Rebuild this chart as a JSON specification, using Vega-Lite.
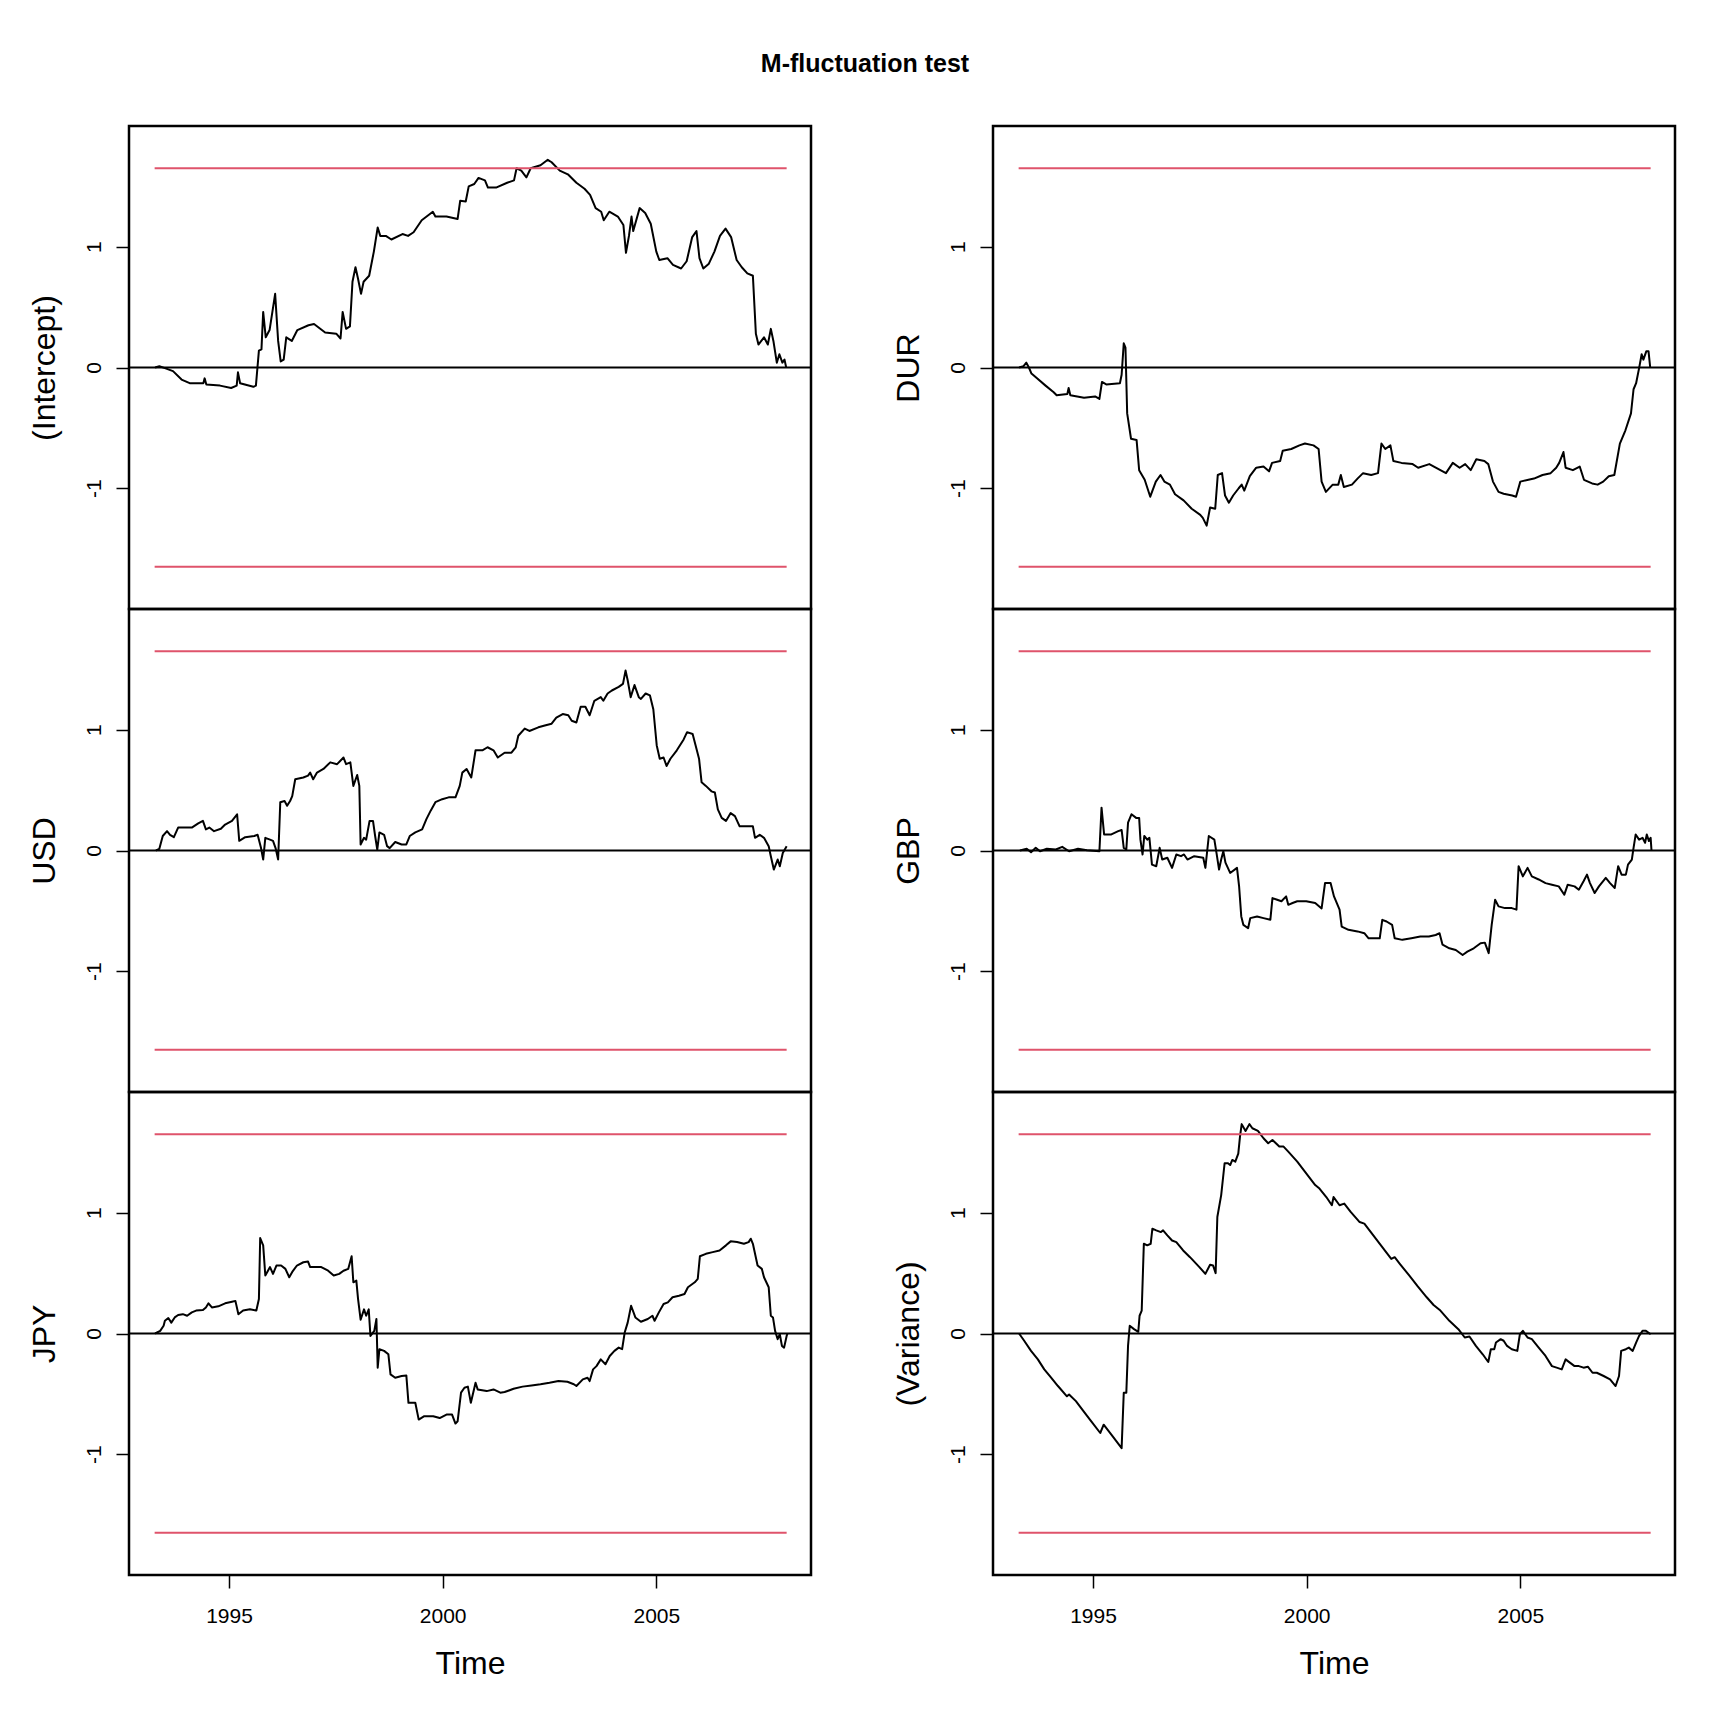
{
  "$schema": "https://vega.github.io/schema/vega-lite/v6.json",
  "description": "M-fluctuation test: empirical fluctuation processes for six parameters with 5% boundaries.",
  "padding": {"left": 26, "top": 51, "right": 5, "bottom": 5},
  "background": "white",
  "title": {
    "text": "M-fluctuation test",
    "font": "Liberation Sans",
    "fontSize": 25,
    "fontWeight": "bold",
    "color": "black",
    "anchor": "middle",
    "dx": 13,
    "offset": 48
  },
  "config": {
    "font": "Liberation Sans",
    "view": {"stroke": "black", "strokeWidth": 2.5},
    "axis": {
      "domain": false,
      "grid": false,
      "ticks": true,
      "tickColor": "black",
      "tickWidth": 1.5,
      "tickSize": 13,
      "labelFont": "Liberation Sans",
      "labelFontSize": 21,
      "labelColor": "black",
      "titleFont": "Liberation Sans",
      "titleFontSize": 32,
      "titleFontWeight": "normal",
      "titleColor": "black"
    },
    "axisY": {
      "labelAngle": 270,
      "labelAlign": "center",
      "labelBaseline": "alphabetic",
      "labelPadding": 16,
      "titlePadding": 22
    },
    "axisX": {"labelPadding": 17, "titlePadding": 22},
    "line": {"strokeJoin": "round", "strokeCap": "butt"}
  },
  "datasets": {
    "rules": [
      {"t": 1993.26, "t2": 2008.05, "v": 1.65, "k": "boundary"},
      {"t": 1993.26, "t2": 2008.05, "v": -1.65, "k": "boundary"},
      {"t": 1992.66, "t2": 2008.62, "v": 0, "k": "zero"}
    ],
    "intercept": [
      {"t":1993.27,"v":0},{"t":1993.37,"v":0.01},{"t":1993.50,"v":-0.005},{"t":1993.69,"v":-0.03},{"t":1993.89,"v":-0.10},
      {"t":1994.08,"v":-0.13},{"t":1994.40,"v":-0.13},{"t":1994.43,"v":-0.09},{"t":1994.47,"v":-0.14},{"t":1994.79,"v":-0.15},
      {"t":1995.05,"v":-0.17},{"t":1995.18,"v":-0.15},{"t":1995.21,"v":-0.04},{"t":1995.26,"v":-0.13},{"t":1995.57,"v":-0.16},
      {"t":1995.63,"v":-0.15},{"t":1995.70,"v":0.14},{"t":1995.76,"v":0.15},{"t":1995.80,"v":0.46},{"t":1995.86,"v":0.25},
      {"t":1995.95,"v":0.31},{"t":1996.08,"v":0.61},{"t":1996.15,"v":0.22},{"t":1996.21,"v":0.05},{"t":1996.28,"v":0.065},
      {"t":1996.34,"v":0.25},{"t":1996.47,"v":0.22},{"t":1996.60,"v":0.31},{"t":1996.86,"v":0.35},{"t":1996.99,"v":0.36},
      {"t":1997.25,"v":0.29},{"t":1997.51,"v":0.28},{"t":1997.61,"v":0.24},{"t":1997.66,"v":0.46},{"t":1997.74,"v":0.32},
      {"t":1997.83,"v":0.34},{"t":1997.89,"v":0.71},{"t":1997.96,"v":0.83},{"t":1998.02,"v":0.735},{"t":1998.09,"v":0.61},
      {"t":1998.15,"v":0.71},{"t":1998.28,"v":0.76},{"t":1998.39,"v":0.96},{"t":1998.48,"v":1.16},{"t":1998.54,"v":1.09},
      {"t":1998.67,"v":1.09},{"t":1998.80,"v":1.06},{"t":1999.06,"v":1.105},{"t":1999.19,"v":1.09},{"t":1999.32,"v":1.12},
      {"t":1999.51,"v":1.22},{"t":1999.77,"v":1.29},{"t":1999.83,"v":1.25},{"t":2000.09,"v":1.25},{"t":2000.35,"v":1.23},
      {"t":2000.41,"v":1.38},{"t":2000.54,"v":1.375},{"t":2000.61,"v":1.5},{"t":2000.74,"v":1.52},{"t":2000.84,"v":1.57},
      {"t":2000.99,"v":1.55},{"t":2001.06,"v":1.49},{"t":2001.25,"v":1.49},{"t":2001.51,"v":1.53},{"t":2001.67,"v":1.55},
      {"t":2001.73,"v":1.65},{"t":2001.84,"v":1.63},{"t":2001.96,"v":1.575},{"t":2002.06,"v":1.65},{"t":2002.29,"v":1.675},
      {"t":2002.46,"v":1.72},{"t":2002.55,"v":1.70},{"t":2002.74,"v":1.63},{"t":2002.93,"v":1.60},{"t":2003.13,"v":1.53},
      {"t":2003.32,"v":1.48},{"t":2003.45,"v":1.43},{"t":2003.58,"v":1.32},{"t":2003.71,"v":1.29},{"t":2003.77,"v":1.22},
      {"t":2003.90,"v":1.29},{"t":2004.10,"v":1.25},{"t":2004.23,"v":1.18},{"t":2004.29,"v":0.95},{"t":2004.36,"v":1.09},
      {"t":2004.42,"v":1.25},{"t":2004.46,"v":1.13},{"t":2004.61,"v":1.32},{"t":2004.74,"v":1.28},{"t":2004.87,"v":1.19},
      {"t":2005.00,"v":0.96},{"t":2005.07,"v":0.89},{"t":2005.26,"v":0.905},{"t":2005.39,"v":0.85},{"t":2005.58,"v":0.82},
      {"t":2005.71,"v":0.88},{"t":2005.84,"v":1.08},{"t":2005.94,"v":1.13},{"t":2006.01,"v":0.905},{"t":2006.10,"v":0.82},
      {"t":2006.23,"v":0.86},{"t":2006.36,"v":0.96},{"t":2006.49,"v":1.09},{"t":2006.62,"v":1.15},{"t":2006.75,"v":1.08},
      {"t":2006.88,"v":0.89},{"t":2007.00,"v":0.83},{"t":2007.13,"v":0.78},{"t":2007.26,"v":0.76},{"t":2007.33,"v":0.28},
      {"t":2007.39,"v":0.19},{"t":2007.52,"v":0.25},{"t":2007.61,"v":0.19},{"t":2007.68,"v":0.32},{"t":2007.74,"v":0.22},
      {"t":2007.82,"v":0.04},{"t":2007.88,"v":0.11},{"t":2007.95,"v":0.04},{"t":2008.00,"v":0.065},{"t":2008.04,"v":0}
    ],
    "dur": [
      {"t":1993.27,"v":0},{"t":1993.37,"v":0.01},{"t":1993.44,"v":0.04},{"t":1993.50,"v":0},{"t":1993.56,"v":-0.05},
      {"t":1993.69,"v":-0.09},{"t":1993.89,"v":-0.15},{"t":1994.08,"v":-0.205},{"t":1994.15,"v":-0.23},{"t":1994.40,"v":-0.22},
      {"t":1994.43,"v":-0.17},{"t":1994.47,"v":-0.23},{"t":1994.79,"v":-0.25},{"t":1995.05,"v":-0.24},{"t":1995.15,"v":-0.26},
      {"t":1995.21,"v":-0.12},{"t":1995.31,"v":-0.14},{"t":1995.63,"v":-0.13},{"t":1995.67,"v":-0.06},{"t":1995.72,"v":0.2},
      {"t":1995.76,"v":0.165},{"t":1995.80,"v":-0.38},{"t":1995.89,"v":-0.59},{"t":1996.02,"v":-0.60},{"t":1996.08,"v":-0.85},
      {"t":1996.21,"v":-0.93},{"t":1996.34,"v":-1.07},{"t":1996.47,"v":-0.945},{"t":1996.58,"v":-0.89},{"t":1996.67,"v":-0.945},
      {"t":1996.80,"v":-0.97},{"t":1996.92,"v":-1.05},{"t":1997.12,"v":-1.10},{"t":1997.31,"v":-1.17},{"t":1997.51,"v":-1.22},
      {"t":1997.57,"v":-1.245},{"t":1997.66,"v":-1.31},{"t":1997.74,"v":-1.16},{"t":1997.86,"v":-1.17},{"t":1997.92,"v":-0.89},
      {"t":1998.02,"v":-0.875},{"t":1998.09,"v":-1.06},{"t":1998.18,"v":-1.12},{"t":1998.28,"v":-1.06},{"t":1998.41,"v":-1.00},
      {"t":1998.48,"v":-0.97},{"t":1998.54,"v":-1.02},{"t":1998.67,"v":-0.90},{"t":1998.82,"v":-0.83},{"t":1998.99,"v":-0.82},
      {"t":1999.12,"v":-0.86},{"t":1999.19,"v":-0.79},{"t":1999.38,"v":-0.775},{"t":1999.44,"v":-0.69},{"t":1999.64,"v":-0.675},
      {"t":1999.83,"v":-0.645},{"t":1999.96,"v":-0.63},{"t":2000.16,"v":-0.645},{"t":2000.28,"v":-0.675},{"t":2000.35,"v":-0.945},
      {"t":2000.45,"v":-1.03},{"t":2000.61,"v":-0.97},{"t":2000.74,"v":-0.97},{"t":2000.80,"v":-0.89},{"t":2000.87,"v":-0.99},
      {"t":2001.06,"v":-0.97},{"t":2001.19,"v":-0.92},{"t":2001.32,"v":-0.875},{"t":2001.51,"v":-0.89},{"t":2001.67,"v":-0.875},
      {"t":2001.75,"v":-0.63},{"t":2001.84,"v":-0.675},{"t":2001.96,"v":-0.645},{"t":2002.03,"v":-0.775},{"t":2002.22,"v":-0.79},
      {"t":2002.48,"v":-0.80},{"t":2002.61,"v":-0.83},{"t":2002.87,"v":-0.80},{"t":2003.13,"v":-0.85},{"t":2003.26,"v":-0.875},
      {"t":2003.42,"v":-0.79},{"t":2003.58,"v":-0.83},{"t":2003.71,"v":-0.80},{"t":2003.84,"v":-0.85},{"t":2003.97,"v":-0.76},
      {"t":2004.16,"v":-0.775},{"t":2004.25,"v":-0.80},{"t":2004.36,"v":-0.945},{"t":2004.49,"v":-1.03},{"t":2004.61,"v":-1.045},
      {"t":2004.81,"v":-1.06},{"t":2004.90,"v":-1.07},{"t":2005.00,"v":-0.945},{"t":2005.19,"v":-0.93},{"t":2005.32,"v":-0.92},
      {"t":2005.52,"v":-0.89},{"t":2005.71,"v":-0.875},{"t":2005.84,"v":-0.83},{"t":2005.91,"v":-0.79},{"t":2006.01,"v":-0.70},
      {"t":2006.06,"v":-0.83},{"t":2006.23,"v":-0.85},{"t":2006.39,"v":-0.82},{"t":2006.49,"v":-0.93},{"t":2006.68,"v":-0.96},
      {"t":2006.81,"v":-0.97},{"t":2006.94,"v":-0.945},{"t":2007.07,"v":-0.90},{"t":2007.20,"v":-0.89},{"t":2007.33,"v":-0.63},
      {"t":2007.46,"v":-0.52},{"t":2007.59,"v":-0.38},{"t":2007.65,"v":-0.18},{"t":2007.71,"v":-0.13},{"t":2007.78,"v":-0.005},
      {"t":2007.84,"v":0.11},{"t":2007.88,"v":0.065},{"t":2007.95,"v":0.135},{"t":2008.00,"v":0.135},{"t":2008.04,"v":0}
    ],
    "usd": [
      {"t":1993.29,"v":0},{"t":1993.37,"v":0.014},{"t":1993.45,"v":0.12},{"t":1993.55,"v":0.16},{"t":1993.62,"v":0.13},
      {"t":1993.71,"v":0.11},{"t":1993.81,"v":0.19},{"t":1993.97,"v":0.19},{"t":1994.13,"v":0.19},{"t":1994.28,"v":0.225},
      {"t":1994.39,"v":0.245},{"t":1994.46,"v":0.175},{"t":1994.54,"v":0.19},{"t":1994.65,"v":0.16},{"t":1994.81,"v":0.18},
      {"t":1994.91,"v":0.215},{"t":1995.07,"v":0.245},{"t":1995.19,"v":0.30},{"t":1995.24,"v":0.08},{"t":1995.38,"v":0.11},
      {"t":1995.59,"v":0.12},{"t":1995.67,"v":0.13},{"t":1995.75,"v":0.02},{"t":1995.80,"v":-0.075},{"t":1995.85,"v":0.105},
      {"t":1995.96,"v":0.09},{"t":1996.03,"v":0.08},{"t":1996.09,"v":0.02},{"t":1996.15,"v":-0.075},{"t":1996.20,"v":0.40},
      {"t":1996.30,"v":0.41},{"t":1996.36,"v":0.37},{"t":1996.43,"v":0.41},{"t":1996.48,"v":0.45},{"t":1996.55,"v":0.59},
      {"t":1996.74,"v":0.605},{"t":1996.85,"v":0.62},{"t":1996.90,"v":0.645},{"t":1996.97,"v":0.59},{"t":1997.06,"v":0.645},
      {"t":1997.21,"v":0.675},{"t":1997.37,"v":0.73},{"t":1997.53,"v":0.715},{"t":1997.68,"v":0.77},{"t":1997.74,"v":0.715},
      {"t":1997.84,"v":0.73},{"t":1997.91,"v":0.535},{"t":1998.00,"v":0.625},{"t":1998.05,"v":0.535},{"t":1998.08,"v":0.05},
      {"t":1998.16,"v":0.105},{"t":1998.21,"v":0.09},{"t":1998.29,"v":0.245},{"t":1998.37,"v":0.245},{"t":1998.42,"v":0.12},
      {"t":1998.47,"v":0.008},{"t":1998.52,"v":0.15},{"t":1998.63,"v":0.13},{"t":1998.70,"v":0.036},{"t":1998.76,"v":0.02},
      {"t":1998.89,"v":0.07},{"t":1999.04,"v":0.05},{"t":1999.15,"v":0.05},{"t":1999.23,"v":0.12},{"t":1999.36,"v":0.15},
      {"t":1999.52,"v":0.175},{"t":1999.62,"v":0.26},{"t":1999.72,"v":0.33},{"t":1999.83,"v":0.40},{"t":1999.99,"v":0.425},
      {"t":2000.14,"v":0.44},{"t":2000.30,"v":0.44},{"t":2000.40,"v":0.535},{"t":2000.46,"v":0.645},{"t":2000.56,"v":0.675},
      {"t":2000.67,"v":0.605},{"t":2000.77,"v":0.83},{"t":2000.93,"v":0.83},{"t":2001.05,"v":0.855},{"t":2001.19,"v":0.83},
      {"t":2001.29,"v":0.77},{"t":2001.45,"v":0.81},{"t":2001.61,"v":0.81},{"t":2001.71,"v":0.855},{"t":2001.77,"v":0.95},
      {"t":2001.92,"v":1.01},{"t":2002.03,"v":0.99},{"t":2002.24,"v":1.02},{"t":2002.39,"v":1.035},{"t":2002.55,"v":1.05},
      {"t":2002.66,"v":1.10},{"t":2002.81,"v":1.13},{"t":2002.94,"v":1.12},{"t":2003.02,"v":1.075},{"t":2003.13,"v":1.06},
      {"t":2003.23,"v":1.19},{"t":2003.34,"v":1.19},{"t":2003.44,"v":1.12},{"t":2003.55,"v":1.24},{"t":2003.70,"v":1.27},
      {"t":2003.76,"v":1.24},{"t":2003.86,"v":1.30},{"t":2003.96,"v":1.325},{"t":2004.12,"v":1.355},{"t":2004.22,"v":1.38},
      {"t":2004.28,"v":1.49},{"t":2004.33,"v":1.41},{"t":2004.40,"v":1.27},{"t":2004.49,"v":1.37},{"t":2004.59,"v":1.27},
      {"t":2004.64,"v":1.255},{"t":2004.75,"v":1.30},{"t":2004.85,"v":1.285},{"t":2004.93,"v":1.17},{"t":2005.01,"v":0.87},
      {"t":2005.08,"v":0.76},{"t":2005.17,"v":0.77},{"t":2005.24,"v":0.70},{"t":2005.33,"v":0.76},{"t":2005.48,"v":0.83},
      {"t":2005.64,"v":0.92},{"t":2005.72,"v":0.98},{"t":2005.85,"v":0.965},{"t":2005.92,"v":0.87},{"t":2006.00,"v":0.76},
      {"t":2006.06,"v":0.565},{"t":2006.16,"v":0.535},{"t":2006.29,"v":0.49},{"t":2006.37,"v":0.48},{"t":2006.44,"v":0.34},
      {"t":2006.53,"v":0.27},{"t":2006.63,"v":0.245},{"t":2006.74,"v":0.31},{"t":2006.84,"v":0.285},{"t":2006.95,"v":0.20},
      {"t":2007.10,"v":0.20},{"t":2007.26,"v":0.20},{"t":2007.31,"v":0.105},{"t":2007.42,"v":0.13},{"t":2007.52,"v":0.105},
      {"t":2007.63,"v":0.036},{"t":2007.68,"v":-0.047},{"t":2007.75,"v":-0.158},{"t":2007.84,"v":-0.075},{"t":2007.89,"v":-0.13},
      {"t":2007.96,"v":-0.02},{"t":2008.05,"v":0.036}
    ],
    "gbp": [
      {"t":1993.29,"v":0},{"t":1993.45,"v":0.014},{"t":1993.55,"v":-0.014},{"t":1993.66,"v":0.022},{"t":1993.76,"v":-0.006},
      {"t":1993.92,"v":0.014},{"t":1994.13,"v":0.008},{"t":1994.28,"v":0.03},{"t":1994.44,"v":-0.006},{"t":1994.65,"v":0.014},
      {"t":1994.86,"v":0.003},{"t":1995.15,"v":-0.006},{"t":1995.20,"v":0.355},{"t":1995.26,"v":0.133},{"t":1995.43,"v":0.133},
      {"t":1995.59,"v":0.16},{"t":1995.67,"v":0.17},{"t":1995.72,"v":0.022},{"t":1995.78,"v":0.008},{"t":1995.82,"v":0.23},
      {"t":1995.90,"v":0.30},{"t":1996.01,"v":0.27},{"t":1996.08,"v":0.27},{"t":1996.11,"v":0.09},{"t":1996.16,"v":-0.033},
      {"t":1996.20,"v":0.12},{"t":1996.27,"v":0.09},{"t":1996.32,"v":0.105},{"t":1996.38,"v":-0.117},{"t":1996.48,"v":-0.13},
      {"t":1996.56,"v":0.022},{"t":1996.62,"v":-0.075},{"t":1996.74,"v":-0.06},{"t":1996.85,"v":-0.144},{"t":1996.95,"v":-0.033},
      {"t":1997.06,"v":-0.047},{"t":1997.13,"v":-0.033},{"t":1997.21,"v":-0.075},{"t":1997.37,"v":-0.047},{"t":1997.58,"v":-0.06},
      {"t":1997.63,"v":-0.144},{"t":1997.71,"v":0.12},{"t":1997.84,"v":0.09},{"t":1997.89,"v":-0.02},{"t":1997.95,"v":-0.158},
      {"t":1998.00,"v":-0.075},{"t":1998.05,"v":-0.006},{"t":1998.10,"v":-0.10},{"t":1998.21,"v":-0.186},{"t":1998.37,"v":-0.144},
      {"t":1998.42,"v":-0.30},{"t":1998.47,"v":-0.546},{"t":1998.52,"v":-0.616},{"t":1998.63,"v":-0.644},{"t":1998.68,"v":-0.56},
      {"t":1998.84,"v":-0.546},{"t":1998.99,"v":-0.56},{"t":1999.15,"v":-0.574},{"t":1999.20,"v":-0.394},{"t":1999.31,"v":-0.408},
      {"t":1999.41,"v":-0.42},{"t":1999.52,"v":-0.38},{"t":1999.57,"v":-0.45},{"t":1999.67,"v":-0.435},{"t":1999.78,"v":-0.42},
      {"t":1999.99,"v":-0.42},{"t":2000.20,"v":-0.435},{"t":2000.35,"v":-0.48},{"t":2000.43,"v":-0.27},{"t":2000.56,"v":-0.27},
      {"t":2000.64,"v":-0.38},{"t":2000.77,"v":-0.49},{"t":2000.82,"v":-0.63},{"t":2000.98,"v":-0.657},{"t":2001.19,"v":-0.67},
      {"t":2001.35,"v":-0.685},{"t":2001.45,"v":-0.727},{"t":2001.61,"v":-0.727},{"t":2001.71,"v":-0.727},{"t":2001.77,"v":-0.574},
      {"t":2001.87,"v":-0.588},{"t":2002.00,"v":-0.616},{"t":2002.06,"v":-0.727},{"t":2002.24,"v":-0.74},{"t":2002.45,"v":-0.727},
      {"t":2002.66,"v":-0.713},{"t":2002.86,"v":-0.713},{"t":2003.02,"v":-0.70},{"t":2003.11,"v":-0.685},{"t":2003.18,"v":-0.78},
      {"t":2003.34,"v":-0.81},{"t":2003.49,"v":-0.824},{"t":2003.65,"v":-0.865},{"t":2003.76,"v":-0.838},{"t":2003.91,"v":-0.81},
      {"t":2004.07,"v":-0.768},{"t":2004.17,"v":-0.763},{"t":2004.26,"v":-0.85},{"t":2004.33,"v":-0.616},{"t":2004.41,"v":-0.408},
      {"t":2004.49,"v":-0.463},{"t":2004.64,"v":-0.477},{"t":2004.80,"v":-0.477},{"t":2004.91,"v":-0.49},{"t":2004.96,"v":-0.13},
      {"t":2005.06,"v":-0.214},{"t":2005.17,"v":-0.144},{"t":2005.27,"v":-0.214},{"t":2005.43,"v":-0.24},{"t":2005.59,"v":-0.27},
      {"t":2005.74,"v":-0.283},{"t":2005.90,"v":-0.297},{"t":2006.03,"v":-0.366},{"t":2006.11,"v":-0.283},{"t":2006.27,"v":-0.297},
      {"t":2006.37,"v":-0.325},{"t":2006.48,"v":-0.255},{"t":2006.56,"v":-0.20},{"t":2006.63,"v":-0.27},{"t":2006.74,"v":-0.352},
      {"t":2006.84,"v":-0.297},{"t":2007.00,"v":-0.227},{"t":2007.10,"v":-0.27},{"t":2007.21,"v":-0.31},{"t":2007.29,"v":-0.13},
      {"t":2007.37,"v":-0.20},{"t":2007.47,"v":-0.20},{"t":2007.52,"v":-0.117},{"t":2007.61,"v":-0.075},{"t":2007.65,"v":0.022},
      {"t":2007.70,"v":0.133},{"t":2007.78,"v":0.09},{"t":2007.86,"v":0.105},{"t":2007.92,"v":0.064},{"t":2007.96,"v":0.133},
      {"t":2008.01,"v":0.078},{"t":2008.05,"v":0.105},{"t":2008.07,"v":0}
    ],
    "jpy": [
      {"t":1993.27,"v":0},{"t":1993.39,"v":0.022},{"t":1993.47,"v":0.064},{"t":1993.50,"v":0.105},{"t":1993.58,"v":0.128},
      {"t":1993.65,"v":0.09},{"t":1993.73,"v":0.133},{"t":1993.81,"v":0.153},{"t":1993.92,"v":0.16},{"t":1994.02,"v":0.147},
      {"t":1994.13,"v":0.175},{"t":1994.23,"v":0.19},{"t":1994.39,"v":0.194},{"t":1994.46,"v":0.216},{"t":1994.52,"v":0.25},
      {"t":1994.60,"v":0.216},{"t":1994.75,"v":0.225},{"t":1994.91,"v":0.25},{"t":1995.07,"v":0.263},{"t":1995.15,"v":0.27},
      {"t":1995.22,"v":0.16},{"t":1995.33,"v":0.19},{"t":1995.49,"v":0.20},{"t":1995.64,"v":0.19},{"t":1995.70,"v":0.286},
      {"t":1995.73,"v":0.79},{"t":1995.80,"v":0.73},{"t":1995.85,"v":0.48},{"t":1995.96,"v":0.55},{"t":1996.03,"v":0.494},
      {"t":1996.11,"v":0.563},{"t":1996.22,"v":0.563},{"t":1996.32,"v":0.535},{"t":1996.41,"v":0.466},{"t":1996.48,"v":0.51},
      {"t":1996.59,"v":0.563},{"t":1996.74,"v":0.59},{"t":1996.85,"v":0.596},{"t":1996.90,"v":0.55},{"t":1997.06,"v":0.55},
      {"t":1997.16,"v":0.55},{"t":1997.32,"v":0.52},{"t":1997.45,"v":0.48},{"t":1997.58,"v":0.494},{"t":1997.68,"v":0.52},
      {"t":1997.79,"v":0.535},{"t":1997.87,"v":0.64},{"t":1997.91,"v":0.424},{"t":1997.98,"v":0.438},{"t":1998.02,"v":0.286},
      {"t":1998.08,"v":0.114},{"t":1998.16,"v":0.20},{"t":1998.21,"v":0.147},{"t":1998.27,"v":0.20},{"t":1998.31,"v":-0.02},
      {"t":1998.40,"v":0.022},{"t":1998.45,"v":0.12},{"t":1998.48,"v":-0.283},{"t":1998.52,"v":-0.13},{"t":1998.63,"v":-0.144},
      {"t":1998.73,"v":-0.172},{"t":1998.78,"v":-0.338},{"t":1998.89,"v":-0.366},{"t":1999.04,"v":-0.352},{"t":1999.15,"v":-0.347},
      {"t":1999.20,"v":-0.574},{"t":1999.36,"v":-0.574},{"t":1999.44,"v":-0.713},{"t":1999.57,"v":-0.685},{"t":1999.78,"v":-0.685},
      {"t":1999.93,"v":-0.70},{"t":2000.09,"v":-0.671},{"t":2000.22,"v":-0.671},{"t":2000.30,"v":-0.746},{"t":2000.35,"v":-0.727},
      {"t":2000.43,"v":-0.49},{"t":2000.51,"v":-0.449},{"t":2000.59,"v":-0.44},{"t":2000.66,"v":-0.574},{"t":2000.77,"v":-0.408},
      {"t":2000.82,"v":-0.463},{"t":2001.03,"v":-0.477},{"t":2001.19,"v":-0.463},{"t":2001.35,"v":-0.49},{"t":2001.45,"v":-0.485},
      {"t":2001.66,"v":-0.458},{"t":2001.87,"v":-0.44},{"t":2002.08,"v":-0.43},{"t":2002.29,"v":-0.42},{"t":2002.50,"v":-0.408},
      {"t":2002.71,"v":-0.394},{"t":2002.92,"v":-0.40},{"t":2003.07,"v":-0.42},{"t":2003.13,"v":-0.435},{"t":2003.28,"v":-0.38},
      {"t":2003.39,"v":-0.366},{"t":2003.44,"v":-0.394},{"t":2003.52,"v":-0.297},{"t":2003.60,"v":-0.27},{"t":2003.70,"v":-0.214},
      {"t":2003.81,"v":-0.255},{"t":2003.91,"v":-0.186},{"t":2004.02,"v":-0.144},{"t":2004.12,"v":-0.117},{"t":2004.20,"v":-0.13},
      {"t":2004.26,"v":0.008},{"t":2004.33,"v":0.09},{"t":2004.41,"v":0.23},{"t":2004.51,"v":0.133},{"t":2004.64,"v":0.097},
      {"t":2004.80,"v":0.12},{"t":2004.91,"v":0.147},{"t":2004.96,"v":0.105},{"t":2005.06,"v":0.175},{"t":2005.17,"v":0.244},
      {"t":2005.27,"v":0.258},{"t":2005.38,"v":0.30},{"t":2005.53,"v":0.313},{"t":2005.66,"v":0.327},{"t":2005.74,"v":0.383},
      {"t":2005.90,"v":0.424},{"t":2005.97,"v":0.452},{"t":2006.02,"v":0.64},{"t":2006.16,"v":0.66},{"t":2006.32,"v":0.674},
      {"t":2006.48,"v":0.688},{"t":2006.63,"v":0.73},{"t":2006.74,"v":0.763},{"t":2006.89,"v":0.757},{"t":2007.05,"v":0.743},
      {"t":2007.16,"v":0.757},{"t":2007.21,"v":0.785},{"t":2007.26,"v":0.743},{"t":2007.37,"v":0.563},{"t":2007.47,"v":0.535},
      {"t":2007.52,"v":0.466},{"t":2007.63,"v":0.383},{"t":2007.68,"v":0.147},{"t":2007.73,"v":0.133},{"t":2007.78,"v":0.022},
      {"t":2007.84,"v":-0.047},{"t":2007.89,"v":-0.006},{"t":2007.94,"v":-0.103},{"t":2007.99,"v":-0.117},{"t":2008.05,"v":-0.02},
      {"t":2008.07,"v":0}
    ],
    "variance": [
      {"t":1993.27,"v":0},{"t":1993.39,"v":-0.06},{"t":1993.55,"v":-0.144},{"t":1993.71,"v":-0.214},{"t":1993.86,"v":-0.297},
      {"t":1994.02,"v":-0.366},{"t":1994.18,"v":-0.435},{"t":1994.39,"v":-0.52},{"t":1994.44,"v":-0.505},{"t":1994.60,"v":-0.56},
      {"t":1994.75,"v":-0.63},{"t":1994.96,"v":-0.727},{"t":1995.17,"v":-0.824},{"t":1995.25,"v":-0.755},{"t":1995.43,"v":-0.838},
      {"t":1995.67,"v":-0.949},{"t":1995.72,"v":-0.49},{"t":1995.78,"v":-0.49},{"t":1995.82,"v":-0.103},{"t":1995.86,"v":0.064},
      {"t":1995.96,"v":0.036},{"t":1996.06,"v":0.014},{"t":1996.09,"v":0.147},{"t":1996.14,"v":0.19},{"t":1996.19,"v":0.743},
      {"t":1996.27,"v":0.73},{"t":1996.35,"v":0.743},{"t":1996.39,"v":0.868},{"t":1996.48,"v":0.854},{"t":1996.59,"v":0.84},
      {"t":1996.64,"v":0.854},{"t":1996.74,"v":0.813},{"t":1996.85,"v":0.77},{"t":1996.95,"v":0.757},{"t":1997.11,"v":0.688},
      {"t":1997.27,"v":0.632},{"t":1997.49,"v":0.55},{"t":1997.63,"v":0.494},{"t":1997.74,"v":0.57},{"t":1997.81,"v":0.563},
      {"t":1997.87,"v":0.50},{"t":1997.91,"v":0.965},{"t":1998.00,"v":1.146},{"t":1998.08,"v":1.41},{"t":1998.16,"v":1.41},
      {"t":1998.21,"v":1.395},{"t":1998.26,"v":1.437},{"t":1998.33,"v":1.423},{"t":1998.40,"v":1.49},{"t":1998.44,"v":1.63},
      {"t":1998.48,"v":1.734},{"t":1998.57,"v":1.678},{"t":1998.66,"v":1.734},{"t":1998.73,"v":1.70},{"t":1998.86,"v":1.678},
      {"t":1998.99,"v":1.617},{"t":1999.10,"v":1.576},{"t":1999.20,"v":1.603},{"t":1999.36,"v":1.548},{"t":1999.46,"v":1.548},
      {"t":1999.57,"v":1.506},{"t":1999.78,"v":1.423},{"t":1999.99,"v":1.326},{"t":2000.20,"v":1.229},{"t":2000.30,"v":1.20},
      {"t":2000.46,"v":1.13},{"t":2000.59,"v":1.062},{"t":2000.63,"v":1.13},{"t":2000.77,"v":1.062},{"t":2000.88,"v":1.076},
      {"t":2001.03,"v":1.007},{"t":2001.24,"v":0.923},{"t":2001.35,"v":0.91},{"t":2001.56,"v":0.813},{"t":2001.77,"v":0.716},
      {"t":2001.98,"v":0.618},{"t":2002.06,"v":0.632},{"t":2002.18,"v":0.577},{"t":2002.39,"v":0.485},{"t":2002.60,"v":0.39},
      {"t":2002.81,"v":0.30},{"t":2002.97,"v":0.236},{"t":2003.13,"v":0.19},{"t":2003.34,"v":0.105},{"t":2003.55,"v":0.036},
      {"t":2003.70,"v":-0.033},{"t":2003.81,"v":-0.025},{"t":2003.96,"v":-0.103},{"t":2004.12,"v":-0.172},{"t":2004.25,"v":-0.236},
      {"t":2004.31,"v":-0.13},{"t":2004.39,"v":-0.13},{"t":2004.43,"v":-0.075},{"t":2004.54,"v":-0.047},{"t":2004.61,"v":-0.06},
      {"t":2004.69,"v":-0.103},{"t":2004.80,"v":-0.13},{"t":2004.93,"v":-0.144},{"t":2004.99,"v":-0.006},{"t":2005.06,"v":0.022},
      {"t":2005.17,"v":-0.033},{"t":2005.27,"v":-0.047},{"t":2005.43,"v":-0.117},{"t":2005.59,"v":-0.186},{"t":2005.74,"v":-0.27},
      {"t":2005.85,"v":-0.283},{"t":2005.97,"v":-0.297},{"t":2006.06,"v":-0.214},{"t":2006.16,"v":-0.241},{"t":2006.27,"v":-0.27},
      {"t":2006.37,"v":-0.27},{"t":2006.48,"v":-0.283},{"t":2006.58,"v":-0.275},{"t":2006.69,"v":-0.325},{"t":2006.79,"v":-0.325},
      {"t":2006.95,"v":-0.352},{"t":2007.10,"v":-0.38},{"t":2007.23,"v":-0.435},{"t":2007.31,"v":-0.352},{"t":2007.36,"v":-0.144},
      {"t":2007.47,"v":-0.13},{"t":2007.54,"v":-0.117},{"t":2007.63,"v":-0.144},{"t":2007.71,"v":-0.075},{"t":2007.78,"v":-0.02},
      {"t":2007.86,"v":0.022},{"t":2007.94,"v":0.022},{"t":2008.05,"v":-0.006}
    ]
  },
  "bounds": "flush",
  "columns": 2,
  "spacing": {"row": 0, "column": 182},
  "concat": [
    {
      "width": 682, "height": 483,
      "encoding": {
        "x": {"field": "t", "type": "quantitative", "scale": {"domain": [1992.66, 2008.62], "nice": false, "zero": false}, "axis": null},
        "y": {"field": "v", "type": "quantitative", "scale": {"domain": [-2, 2], "nice": false}, "axis": {"values": [-1, 0, 1], "labelExpr": "'' + datum.value", "title": "(Intercept)"}}
      },
      "layer": [
        {"data": {"name": "intercept"}, "mark": {"type": "line", "color": "black", "strokeWidth": 2}, "encoding": {}},
        {"data": {"name": "rules"}, "mark": {"type": "rule", "strokeWidth": 2}, "encoding": {"x2": {"field": "t2"}, "color": {"field": "k", "type": "nominal", "scale": {"domain": ["boundary", "zero"], "range": ["#DF536B", "black"]}, "legend": null}}}
      ]
    },
    {
      "width": 682, "height": 483,
      "encoding": {
        "x": {"field": "t", "type": "quantitative", "scale": {"domain": [1992.66, 2008.62], "nice": false, "zero": false}, "axis": null},
        "y": {"field": "v", "type": "quantitative", "scale": {"domain": [-2, 2], "nice": false}, "axis": {"values": [-1, 0, 1], "labelExpr": "'' + datum.value", "title": "DUR"}}
      },
      "layer": [
        {"data": {"name": "dur"}, "mark": {"type": "line", "color": "black", "strokeWidth": 2}, "encoding": {}},
        {"data": {"name": "rules"}, "mark": {"type": "rule", "strokeWidth": 2}, "encoding": {"x2": {"field": "t2"}, "color": {"field": "k", "type": "nominal", "scale": {"domain": ["boundary", "zero"], "range": ["#DF536B", "black"]}, "legend": null}}}
      ]
    },
    {
      "width": 682, "height": 483,
      "encoding": {
        "x": {"field": "t", "type": "quantitative", "scale": {"domain": [1992.66, 2008.62], "nice": false, "zero": false}, "axis": null},
        "y": {"field": "v", "type": "quantitative", "scale": {"domain": [-2, 2], "nice": false}, "axis": {"values": [-1, 0, 1], "labelExpr": "'' + datum.value", "title": "USD"}}
      },
      "layer": [
        {"data": {"name": "usd"}, "mark": {"type": "line", "color": "black", "strokeWidth": 2}, "encoding": {}},
        {"data": {"name": "rules"}, "mark": {"type": "rule", "strokeWidth": 2}, "encoding": {"x2": {"field": "t2"}, "color": {"field": "k", "type": "nominal", "scale": {"domain": ["boundary", "zero"], "range": ["#DF536B", "black"]}, "legend": null}}}
      ]
    },
    {
      "width": 682, "height": 483,
      "encoding": {
        "x": {"field": "t", "type": "quantitative", "scale": {"domain": [1992.66, 2008.62], "nice": false, "zero": false}, "axis": null},
        "y": {"field": "v", "type": "quantitative", "scale": {"domain": [-2, 2], "nice": false}, "axis": {"values": [-1, 0, 1], "labelExpr": "'' + datum.value", "title": "GBP"}}
      },
      "layer": [
        {"data": {"name": "gbp"}, "mark": {"type": "line", "color": "black", "strokeWidth": 2}, "encoding": {}},
        {"data": {"name": "rules"}, "mark": {"type": "rule", "strokeWidth": 2}, "encoding": {"x2": {"field": "t2"}, "color": {"field": "k", "type": "nominal", "scale": {"domain": ["boundary", "zero"], "range": ["#DF536B", "black"]}, "legend": null}}}
      ]
    },
    {
      "width": 682, "height": 483,
      "encoding": {
        "x": {"field": "t", "type": "quantitative", "scale": {"domain": [1992.66, 2008.62], "nice": false, "zero": false}, "axis": {"values": [1995, 2000, 2005], "format": "d", "title": "Time"}},
        "y": {"field": "v", "type": "quantitative", "scale": {"domain": [-2, 2], "nice": false}, "axis": {"values": [-1, 0, 1], "labelExpr": "'' + datum.value", "title": "JPY"}}
      },
      "layer": [
        {"data": {"name": "jpy"}, "mark": {"type": "line", "color": "black", "strokeWidth": 2}, "encoding": {}},
        {"data": {"name": "rules"}, "mark": {"type": "rule", "strokeWidth": 2}, "encoding": {"x2": {"field": "t2"}, "color": {"field": "k", "type": "nominal", "scale": {"domain": ["boundary", "zero"], "range": ["#DF536B", "black"]}, "legend": null}}}
      ]
    },
    {
      "width": 682, "height": 483,
      "encoding": {
        "x": {"field": "t", "type": "quantitative", "scale": {"domain": [1992.66, 2008.62], "nice": false, "zero": false}, "axis": {"values": [1995, 2000, 2005], "format": "d", "title": "Time"}},
        "y": {"field": "v", "type": "quantitative", "scale": {"domain": [-2, 2], "nice": false}, "axis": {"values": [-1, 0, 1], "labelExpr": "'' + datum.value", "title": "(Variance)"}}
      },
      "layer": [
        {"data": {"name": "variance"}, "mark": {"type": "line", "color": "black", "strokeWidth": 2}, "encoding": {}},
        {"data": {"name": "rules"}, "mark": {"type": "rule", "strokeWidth": 2}, "encoding": {"x2": {"field": "t2"}, "color": {"field": "k", "type": "nominal", "scale": {"domain": ["boundary", "zero"], "range": ["#DF536B", "black"]}, "legend": null}}}
      ]
    }
  ]
}
